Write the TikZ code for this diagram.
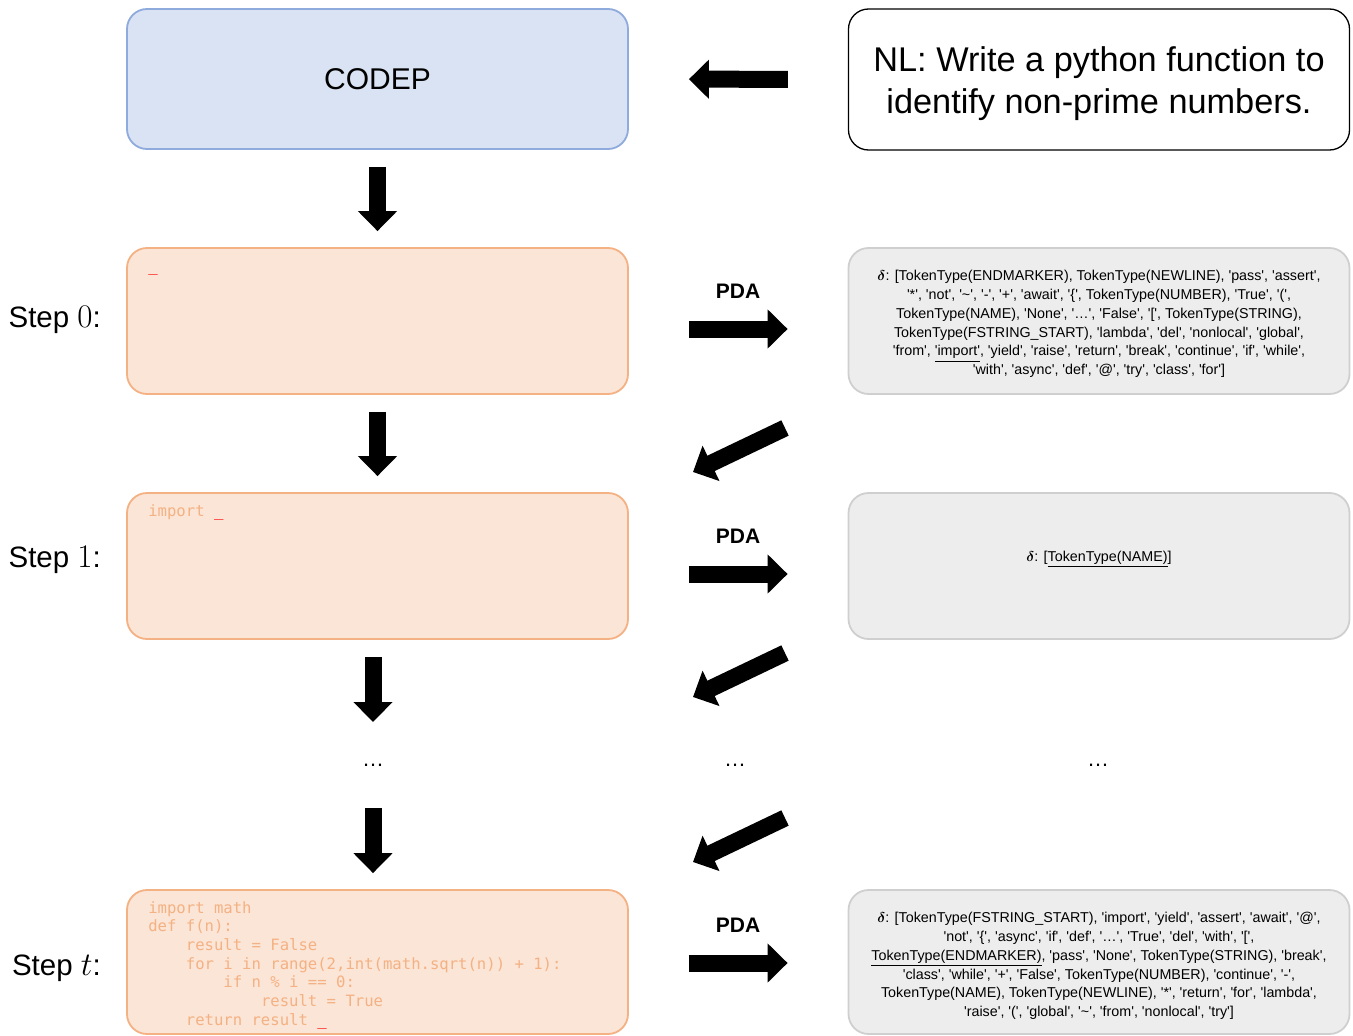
\RequirePackage{fix-cm}
\documentclass[tikz,border=0pt]{standalone}
\usepackage{amsmath}
\usepackage{fontspec}
\setmainfont{Liberation Sans}
\newfontfamily\codefont{DejaVu Sans Mono}
\usetikzlibrary{arrows.meta}
\definecolor{codepfill}{HTML}{DAE3F3}
\definecolor{codepborder}{HTML}{8FAADC}
\definecolor{codefill}{HTML}{FBE5D6}
\definecolor{codeborder}{HTML}{F4B183}
\definecolor{codetext}{HTML}{F4B183}
\definecolor{maskfill}{HTML}{EDEDED}
\definecolor{maskborder}{HTML}{CFCFCF}
\newcommand{\tk}[1]{\textquotesingle#1\textquotesingle}
\newcommand{\ind}{\phantom{xxxx}}
\newcommand{\cursor}{\textcolor{red}{\_}}
\newcommand{\stepno}[1]{{\fontsize{33}{36}\selectfont$#1$}}

\begin{document}
\begin{tikzpicture}[x=1pt,y=-1pt]
    \tikzstyle{box}=[rounded corners=20pt,minimum width=501pt,inner sep=0pt,line width=1.8pt]
    \tikzstyle{modelbox}=[box,draw=codepborder,fill=codepfill,minimum height=140pt,font=\fontsize{30}{36}\selectfont]
    \tikzstyle{nlbox}=[box,draw=black,fill=white,minimum height=141pt,line width=1.3pt]
    \tikzstyle{nltext}=[inner sep=0pt,align=center,font=\fontsize{34.3}{42}\selectfont]
    \tikzstyle{codebox}=[box,draw=codeborder,fill=codefill,minimum height=146pt]
    \tikzstyle{maskbox}=[box,draw=maskborder,fill=maskfill,minimum height=146pt]
    \tikzstyle{masktext}=[inner sep=0pt,align=center,font=\fontsize{14.3}{18.8}\selectfont]
    \tikzstyle{code}=[anchor=north west,inner sep=0pt,align=left,text=codetext,execute at begin node=\strut,font=\codefont\fontsize{15.6}{18.7}\selectfont]
    \tikzstyle{steplabel}=[anchor=east,inner sep=0pt,font=\fontsize{29.5}{34}\selectfont]
    \tikzstyle{pdalabel}=[inner sep=0pt,font=\bfseries\fontsize{21}{25}\selectfont]
    \tikzstyle{dots}=[inner sep=0pt,font=\fontsize{22}{26}\selectfont]
    \tikzstyle{blockarrow}=[line width=17pt,-{Triangle[length=20pt,width=38pt]}]
    \useasboundingbox (0,0) rectangle (1353,1036);

    \node[modelbox] (codep) at (377.5,79) {CODEP};
    \node[nlbox] (nl) at (1099,79.5) {};
    \node[nltext] (nltxt) at ([yshift=-4pt]nl.center) {NL: Write a python function to\\identify non-prime numbers.};

    \node[codebox] (step0) at (377.5,321) {};
    \node[codebox] (step1) at (377.5,566) {};
    \node[codebox,minimum height=144pt] (stept) at (377.5,962) {};
    \node[code] (code0) at ([shift={(22pt,-11.5pt)}]step0.north west) {\cursor};
    \node[code] (code1) at ([shift={(22pt,-11.5pt)}]step1.north west) {import \cursor};
    \node[code] (codet) at ([shift={(22pt,-12pt)}]stept.north west) {import math\\def f(n):\\\ind result = False\\\ind for i in range(2,int(math.sqrt(n)) + 1):\\\ind\ind if n \% i == 0:\\\ind\ind\ind result = True\\\ind return result \cursor};

    \node[maskbox] (mask0) at (1099,321) {};
    \node[maskbox] (mask1) at (1099,566) {};
    \node[maskbox,minimum height=144pt] (maskt) at (1099,962) {};
    \node[masktext] (delta0) at ([yshift=-3pt]mask0.center) {$\boldsymbol{\delta}$: [TokenType(ENDMARKER), TokenType(NEWLINE), \tk{pass}, \tk{assert},\\
        \tk{*}, \tk{not}, \tk{\textasciitilde}, \tk{-}, \tk{+}, \tk{await}, \tk{\{}, TokenType(NUMBER), \tk{True}, \tk{(},\\
        TokenType(NAME), \tk{None}, \tk{\dots}, \tk{False}, \tk{[}, TokenType(STRING),\\
        TokenType(FSTRING\_START), \tk{lambda}, \tk{del}, \tk{nonlocal}, \tk{global},\\
        \tk{from}, \underline{\tk{import}}, \tk{yield}, \tk{raise}, \tk{return}, \tk{break}, \tk{continue}, \tk{if}, \tk{while},\\
        \tk{with}, \tk{async}, \tk{def}, \tk{@}, \tk{try}, \tk{class}, \tk{for}]};
    \node[masktext] (delta1) at ([yshift=7pt]mask1.center) {$\boldsymbol{\delta}$: [\underline{TokenType(NAME)}]};
    \node[masktext] (deltat) at ([yshift=-4pt]maskt.center) {$\boldsymbol{\delta}$: [TokenType(FSTRING\_START), \tk{import}, \tk{yield}, \tk{assert}, \tk{await}, \tk{@},\\
        \tk{not}, \tk{\{}, \tk{async}, \tk{if}, \tk{def}, \tk{\dots}, \tk{True}, \tk{del}, \tk{with}, \tk{[},\\
        \underline{TokenType(ENDMARKER)}, \tk{pass}, \tk{None}, TokenType(STRING), \tk{break},\\
        \tk{class}, \tk{while}, \tk{+}, \tk{False}, TokenType(NUMBER), \tk{continue}, \tk{-},\\
        TokenType(NAME), TokenType(NEWLINE), \tk{*}, \tk{return}, \tk{for}, \tk{lambda},\\
        \tk{raise}, \tk{(}, \tk{global}, \tk{\textasciitilde}, \tk{from}, \tk{nonlocal}, \tk{try}]};

    \node[steplabel] (lab0) at (101,320) {Step \stepno{0}:};
    \node[steplabel] (lab1) at (101,560) {Step \stepno{1}:};
    \node[steplabel] (labt) at (101,968) {Step \stepno{t}:};

    \node[pdalabel] (pda0) at (738,291) {PDA};
    \node[pdalabel] (pda1) at (738,536) {PDA};
    \node[pdalabel] (pdat) at (738,925) {PDA};

    \node[dots] (dots0) at (373,765) {\dots};
    \node[dots] (dots1) at (735,765) {\dots};
    \node[dots] (dots2) at (1098,765) {\dots};

    \draw[blockarrow,shorten <=60pt,shorten >=60pt] (nl) -- (codep);
    \draw[blockarrow,shorten <=17pt,shorten >=16pt] (codep) -- (step0);
    \draw[blockarrow,shorten <=17pt,shorten >=16pt] (step0) -- (step1);
    \draw[blockarrow,shorten <=17pt,shorten >=43pt] (step1.south -| dots0.center) -- (dots0.center);
    \draw[blockarrow,shorten <=43pt,shorten >=16pt] (dots0.center) -- (stept.north -| dots0.center);

    \draw[blockarrow,shorten <=60pt,shorten >=60pt] ([yshift=-8pt]step0.east) -- ([yshift=-8pt]mask0.west);
    \draw[blockarrow,shorten <=60pt,shorten >=60pt] ([yshift=-8pt]step1.east) -- ([yshift=-8pt]mask1.west);
    \draw[blockarrow,shorten <=60pt,shorten >=60pt] ([yshift=-1pt]stept.east) -- ([yshift=-1pt]maskt.west);

    \coordinate (back0s) at (785,428);
    \coordinate (back0e) at (693,472);
    \coordinate (back1s) at (785,653);
    \coordinate (back1e) at (693,697);
    \coordinate (back2s) at (785,818);
    \coordinate (back2e) at (693,862);
    \draw[blockarrow] (back0s) -- (back0e);
    \draw[blockarrow] (back1s) -- (back1e);
    \draw[blockarrow] (back2s) -- (back2e);
\end{tikzpicture}
\end{document}
